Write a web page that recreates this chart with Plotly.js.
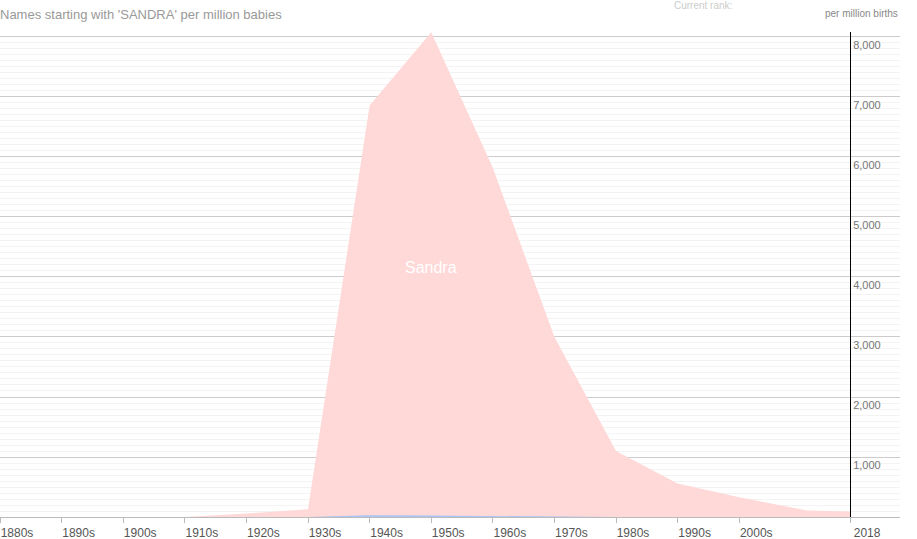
<!DOCTYPE html>
<html>
<head>
<meta charset="utf-8">
<script src="https://cdn.plot.ly/plotly-3.0.1.min.js"></script>
<style>html,body{margin:0;padding:0;background:#fff;}#chart{width:917px;height:539px;}</style>
</head>
<body>
<div id="chart"></div>
<script>
const sandraYears = [1880, 1890, 1900, 1910, 1920, 1930, 1940, 1950, 1960, 1970, 1980, 1990, 2000, 2009, 2011, 2018];
const sandraValues = [0, 0, 0, 0, 60, 130, 6860, 8080, 5820, 3000, 1100, 560, 330, 150, 110, 93];
const otherYears = [1930, 1940, 1950, 1960, 1970, 1980];
const otherValues = [0, 30, 25, 15, 8, 0];
const tickYears = [1880, 1890, 1900, 1910, 1920, 1930, 1940, 1950, 1960, 1970, 1980, 1990, 2000, 2018];
const tickLabels = ['1880s', '1890s', '1900s', '1910s', '1920s', '1930s', '1940s', '1950s', '1960s', '1970s', '1980s', '1990s', '2000s', '2018'];
const yTicks = [1000, 2000, 3000, 4000, 5000, 6000, 7000, 8000];

const traces = [
  {
    x: sandraYears, y: sandraValues, type: 'scatter', mode: 'lines',
    fill: 'tozeroy', fillcolor: '#ffd8d8', line: {width: 0, color: '#ffd8d8'},
    hoverinfo: 'skip', name: 'Sandra'
  },
  {
    x: otherYears, y: otherValues, type: 'scatter', mode: 'lines',
    fill: 'tozeroy', fillcolor: '#a9c4f5', line: {width: 0, color: '#a9c4f5'},
    hoverinfo: 'skip', name: 'Sandro'
  }
];

const layout = {
  width: 917, height: 539,
  margin: {l: 0, r: 17, t: 32, b: 22},
  paper_bgcolor: '#fff', plot_bgcolor: '#fff',
  showlegend: false,
  font: {family: 'Liberation Sans, Arial, sans-serif', color: '#555'},
  title: {
    text: "Names starting with 'SANDRA' per million babies",
    x: 0, xref: 'paper', xanchor: 'left',
    y: 1 - 14 / 539, yref: 'container', yanchor: 'middle',
    font: {size: 13, color: '#999', family: 'Liberation Sans, Arial, sans-serif'}
  },
  xaxis: {
    range: [1880, 2026.1], fixedrange: true,
    tickmode: 'array', tickvals: tickYears, ticktext: tickLabels,
    ticks: 'outside', ticklen: 5, tickcolor: '#bbb', tickwidth: 1,
    showgrid: false, zeroline: false,
    showline: true, linecolor: '#bbb', linewidth: 1,
    tickfont: {size: 12, color: '#555'},
    ticklabelshift: 17, ticklabelstandoff: 0
  },
  yaxis: {
    range: [0, 8083], fixedrange: true,
    anchor: 'free', position: 850 / 900, side: 'right',
    tickmode: 'array', tickvals: yTicks, tickformat: ',d',
    ticks: '', showline: true, linecolor: '#000', linewidth: 1,
    showgrid: true, gridcolor: '#ccc', gridwidth: 1,
    minor: {dtick: 100, showgrid: true, gridcolor: '#f3f3f3', gridwidth: 1, ticks: ''},
    zeroline: false,
    tickfont: {size: 11, color: '#777'},
    ticklabelshift: 8
  },
  annotations: [
    {
      text: 'Sandra', x: 1950, y: 4150, xref: 'x', yref: 'y',
      showarrow: false, font: {size: 16, color: '#fff', family: 'Liberation Sans, Arial, sans-serif'}
    },
    {
      text: 'per million births', x: 1, xref: 'paper', xanchor: 'right',
      y: 1, yref: 'paper', yanchor: 'middle', yshift: 19,
      showarrow: false, font: {size: 10, color: '#888', family: 'Liberation Sans, Arial, sans-serif'}
    },
    {
      text: 'Current rank:', x: 672 / 900, xref: 'paper', xanchor: 'left',
      y: 1, yref: 'paper', yanchor: 'middle', yshift: 27,
      showarrow: false, font: {size: 10, color: '#ccc', family: 'Liberation Sans, Arial, sans-serif'}
    }
  ]
};

Plotly.newPlot('chart', traces, layout, {displayModeBar: false, staticPlot: true});
</script>
</body>
</html>
